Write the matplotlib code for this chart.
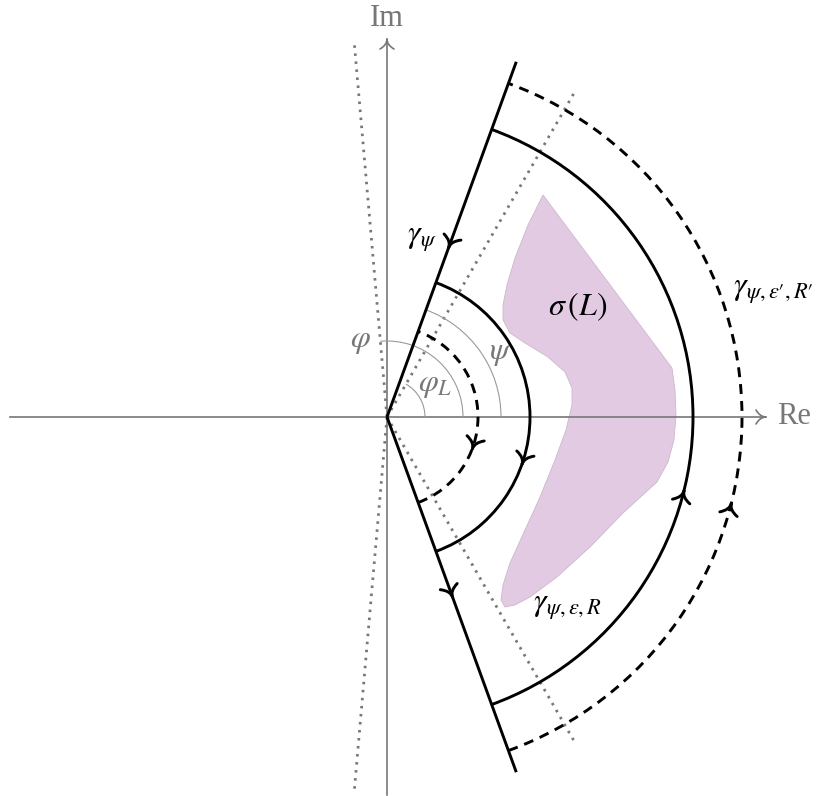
import numpy as np
import matplotlib
matplotlib.use("Agg")
import matplotlib.pyplot as plt
from matplotlib.patches import Arc, Polygon, PathPatch
from matplotlib.path import Path

plt.rcParams['mathtext.fontset'] = 'stix'
plt.rcParams['font.family'] = ['Liberation Serif', 'DejaVu Serif']

# origin of the complex plane in picture pixels
OX, OY = 387, 417

# contour geometry (pixel units)
PSI = 70            # half opening angle of the sector, degrees
PHI_L = 60          # spectral angle
PHI = 95            # outer angle
RAY_LEN = 378
EPS, R = 143, 306           # solid contour
EPS2, R2 = 91, 355          # dashed contour
GUIDE_LEN = 376

# angle markers: (radius, end angle)
angle_arcs = [(38, PHI_L), (76, PHI), (114, PSI)]

# sigma(L) outline, picture pixels
shape_px = [(543, 195), (672, 368), (675, 390), (676, 415), (674, 440), (668, 462),
            (657, 482), (623, 513), (590, 547), (557, 577), (530, 597), (515, 605),
            (505, 607), (501, 600), (503, 585), (510, 563), (525, 530), (540, 497),
            (555, 460), (566, 430), (572, 405), (572, 388), (565, 372), (548, 357),
            (525, 343), (510, 333), (503, 320), (503, 305), (507, 285), (515, 258),
            (528, 225)]

GREY = '#777777'
LW = 2.1
FS = 23

fig = plt.figure(figsize=(8.19, 7.96), dpi=100)
ax = fig.add_axes([0, 0, 1, 1])
ax.set_xlim(-OX, 819 - OX)
ax.set_ylim(-(796 - OY), OY)
ax.axis('off')


def chevron(x, y, ang, color='black', lw=LW, length=11, half=9):
    d = np.array([np.cos(np.radians(ang)), np.sin(np.radians(ang))])
    n = np.array([-d[1], d[0]])
    tip = np.array([x, y]) + d * length / 2
    for s in (1, -1):
        verts = [tip, tip - d * length * 0.6, tip - d * length + n * half * s]
        p = Path(verts, [Path.MOVETO, Path.CURVE3, Path.CURVE3])
        ax.add_patch(PathPatch(p, fill=False, edgecolor=color, lw=lw,
                               capstyle='round', zorder=5))


def polar(r, a):
    return r * np.cos(np.radians(a)), r * np.sin(np.radians(a))


# sigma(L)
shape = np.array([(px - OX, OY - py) for px, py in shape_px])
ax.add_patch(Polygon(shape, closed=True, facecolor='#e2cbe2',
                     edgecolor='#cbb8cb', lw=0.6, zorder=1))

# axes
ax.plot([-377, 378], [0, 0], color=GREY, lw=1.2, zorder=2)
ax.plot([0, 0], [-378, 377], color=GREY, lw=1.2, zorder=2)
chevron(374, 0, 0, color=GREY, lw=1.2, length=10, half=7)
chevron(0, 373, 90, color=GREY, lw=1.2, length=10, half=7)
ax.text(390, 0, 'Re', color=GREY, fontsize=22, ha='left', va='center')
ax.text(0, 399, 'Im', color=GREY, fontsize=22, ha='center', va='center')

# dotted guide rays
for a in (PHI_L, -PHI_L, PHI, -PHI):
    x, y = polar(GUIDE_LEN, a)
    ax.plot([0, x], [0, y], color=GREY, lw=2.0, ls=(0, (0.9, 2.0)),
            dash_capstyle='butt', zorder=2)

# angle marker arcs
for r, a in angle_arcs:
    ax.add_patch(Arc((0, 0), 2 * r, 2 * r, theta1=0, theta2=a,
                     color='#9a9a9a', lw=0.8, zorder=2))

# contour rays
for a in (PSI, -PSI):
    x, y = polar(RAY_LEN, a)
    ax.plot([0, x], [0, y], color='black', lw=LW, zorder=4,
            solid_capstyle='butt')

# contour arcs
for r in (EPS, R):
    ax.add_patch(Arc((0, 0), 2 * r, 2 * r, theta1=-PSI, theta2=PSI,
                     color='black', lw=LW, zorder=4))
for r in (EPS2, R2):
    ax.add_patch(Arc((0, 0), 2 * r, 2 * r, theta1=-PSI, theta2=PSI,
                     color='black', lw=LW, ls=(0, (3.4, 2.4)), zorder=4))

# direction marks
x, y = polar(186, PSI)
chevron(x, y, PSI + 180)
x, y = polar(186, -PSI)
chevron(x, y, -PSI)
for r, a in ((EPS, -17), (EPS2, -17)):
    x, y = polar(r, a)
    chevron(x, y, a - 90)
for r, a in ((R, -15), (R2, -15)):
    x, y = polar(r, a)
    chevron(x, y, a + 90)

# labels
ax.text(20, 177, r'$\gamma_\psi$', fontsize=FS, ha='left', va='center')
ax.text(161, 110, r'$\sigma\/(L)$', fontsize=FS, ha='left', va='center')
ax.text(146, -190, r'$\gamma_{\psi,\varepsilon,R}$', fontsize=FS,
        ha='left', va='center')
ax.text(346, 126, r"$\gamma_{\psi,\varepsilon′,R′}$", fontsize=FS,
        ha='left', va='center')
ax.text(-27, 75, r'$\varphi$', fontsize=FS, color=GREY, ha='center', va='center')
ax.text(48, 31, r'$\varphi_L$', fontsize=FS, color=GREY, ha='center', va='center')
ax.text(114, 64, r'$\psi$', fontsize=FS, color=GREY, ha='center', va='center')

fig.savefig('out.png', dpi=100)
